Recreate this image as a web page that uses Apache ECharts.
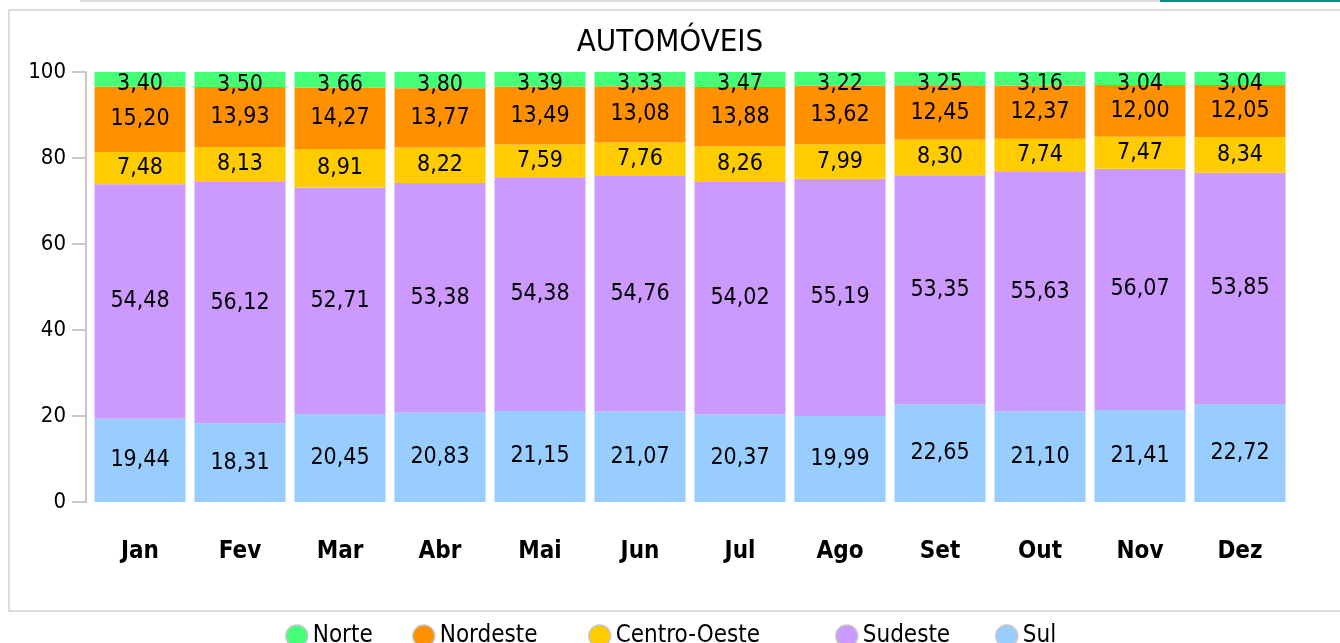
<!DOCTYPE html>
<html>
<head>
<meta charset="utf-8">
<script src="https://cdn.jsdelivr.net/npm/echarts@6/dist/echarts.min.js"></script>
<style>
  html, body { margin: 0; padding: 0; background: #fff; }
  #chart { width: 1340px; height: 643px; }
</style>
</head>
<body>
<div id="chart"></div>
<script>
var months = ['Jan', 'Fev', 'Mar', 'Abr', 'Mai', 'Jun', 'Jul', 'Ago', 'Set', 'Out', 'Nov', 'Dez'];
var yTicks = [0, 20, 40, 60, 80, 100];

var sul = [19.44, 18.31, 20.45, 20.83, 21.15, 21.07, 20.37, 19.99, 22.65, 21.10, 21.41, 22.72];
var sudeste = [54.48, 56.12, 52.71, 53.38, 54.38, 54.76, 54.02, 55.19, 53.35, 55.63, 56.07, 53.85];
var centroOeste = [7.48, 8.13, 8.91, 8.22, 7.59, 7.76, 8.26, 7.99, 8.30, 7.74, 7.47, 8.34];
var nordeste = [15.20, 13.93, 14.27, 13.77, 13.49, 13.08, 13.88, 13.62, 12.45, 12.37, 12.00, 12.05];
var norte = [3.40, 3.50, 3.66, 3.80, 3.39, 3.33, 3.47, 3.22, 3.25, 3.16, 3.04, 3.04];

var FONT = '"DejaVu Sans Condensed", "DejaVu Sans", sans-serif';

function makeSeries(name, data, color, offsetY) {
    return {
        name: name,
        type: 'bar',
        stack: 'total',
        barCategoryGap: '9%',
        data: data,
        itemStyle: { color: color },
        label: {
            show: true,
            position: 'inside',
            offset: [0, offsetY || 0],
            color: '#000',
            fontFamily: FONT,
            fontSize: 23,
            formatter: function (p) {
                return p.value.toFixed(2).replace('.', ',');
            }
        }
    };
}

function legendAt(name, left) {
    return {
        data: [name],
        left: left,
        top: 619,
        icon: 'circle',
        itemWidth: 22,
        itemHeight: 22,
        itemGap: 8,
        selectedMode: false,
        textStyle: { fontFamily: FONT, fontSize: 24, color: '#000' },
        itemStyle: { borderColor: '#c8c8c8', borderWidth: 1.5 }
    };
}

var myChart = echarts.init(document.getElementById('chart'));

var option = {
    animation: false,
    backgroundColor: '#fff',
    title: {
        text: 'AUTOMÓVEIS',
        left: 'center',
        top: 22,
        textStyle: { fontFamily: FONT, fontSize: 31, fontWeight: 'normal', color: '#000' }
    },
    graphic: [
        { type: 'rect', shape: { x: 9, y: 10, width: 1345, height: 601 },
          style: { fill: 'none', stroke: '#dcdcdc', lineWidth: 2 }, silent: true },
        { type: 'line', shape: { x1: 80, y1: 1, x2: 1160, y2: 1 },
          style: { stroke: '#dcdcdc', lineWidth: 2 }, silent: true },
        { type: 'line', shape: { x1: 1160, y1: 1, x2: 1340, y2: 1 },
          style: { stroke: '#0f8a80', lineWidth: 2 }, silent: true }
    ],
    legend: [
        legendAt('Norte', 280),
        legendAt('Nordeste', 407),
        legendAt('Centro-Oeste', 583),
        legendAt('Sudeste', 830),
        legendAt('Sul', 990)
    ],
    grid: { left: 90, right: 50, top: 72, bottom: 141 },
    xAxis: {
        type: 'category',
        data: months,
        axisLine: { show: false },
        axisTick: { show: false },
        axisLabel: {
            margin: 38,
            color: '#000',
            fontFamily: FONT,
            fontWeight: 'bold',
            fontSize: 24
        }
    },
    yAxis: {
        type: 'value',
        min: yTicks[0],
        max: yTicks[yTicks.length - 1],
        interval: 20,
        offset: 4,
        splitLine: { show: false },
        axisLine: { show: true, lineStyle: { color: '#c8c8c8', width: 2 } },
        axisTick: { show: true, length: 14, lineStyle: { color: '#c8c8c8', width: 2 } },
        axisLabel: {
            margin: 20,
            color: '#000',
            fontFamily: FONT,
            fontSize: 22
        }
    },
    series: [
        makeSeries('Sul', sul, '#99ccff'),
        makeSeries('Sudeste', sudeste, '#cc99ff'),
        makeSeries('Centro-Oeste', centroOeste, '#ffcc00'),
        makeSeries('Nordeste', nordeste, '#ff9100'),
        makeSeries('Norte', norte, '#44ff77', 5)
    ]
};

myChart.setOption(option);
</script>
</body>
</html>
